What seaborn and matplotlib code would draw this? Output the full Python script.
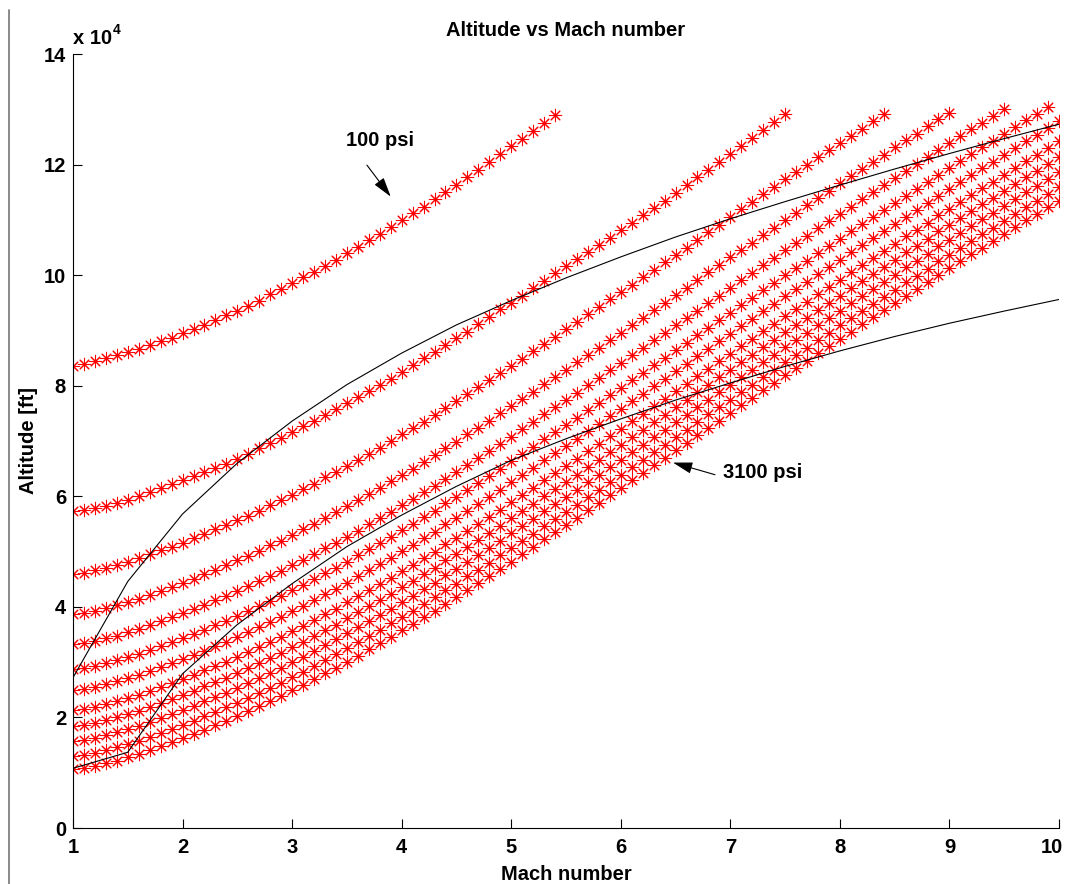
import numpy as np
import pandas as pd
import matplotlib
matplotlib.use("Agg")
import matplotlib.pyplot as plt
import matplotlib.transforms as mtransforms
import seaborn as sns
from matplotlib.lines import Line2D

sns.set_theme(style="white")
plt.rcParams["font.family"] = ["Liberation Sans", "DejaVu Sans"]
plt.rcParams["font.weight"] = "bold"
plt.rcParams["axes.labelweight"] = "bold"
plt.rcParams["axes.titleweight"] = "bold"

# Mach sampling grid of the constant-pressure curves (step 0.1)
mach_grid = np.round(np.arange(1.0, 10.05, 0.1), 1)

# Altitude [kft] of each constant-pressure curve (100 psi ... 3100 psi)
alt_q01 = [83.6, 83.9, 84.4, 85.0, 85.5, 86.1, 86.7, 87.4, 88.0, 88.7,
           89.5, 90.3, 91.0, 91.9, 92.8, 93.6, 94.5, 95.4, 96.5, 97.5,
           98.5, 99.6, 100.6, 101.7, 102.8, 104.0, 105.1, 106.3, 107.5, 108.7,
           109.9, 111.2, 112.4, 113.8, 115.0, 116.3, 117.7, 119.1, 120.5, 121.9,
           123.3, 124.6, 126.1, 127.5, 128.9]
alt_q02 = [57.3, 57.5, 57.9, 58.3, 58.8, 59.4, 60.0, 60.8, 61.5, 62.3,
           63.0, 63.6, 64.4, 65.1, 65.9, 66.8, 67.7, 68.7, 69.7, 70.6,
           71.6, 72.7, 73.6, 74.7, 75.8, 76.9, 78.0, 79.0, 80.2, 81.3,
           82.5, 83.8, 85.0, 86.1, 87.3, 88.6, 89.8, 91.2, 92.4, 93.8,
           95.0, 96.3, 97.6, 98.9, 100.3, 101.6, 102.9, 104.2, 105.5, 106.8,
           108.1, 109.4, 110.8, 112.2, 113.5, 114.9, 116.3, 117.7, 119.1, 120.5,
           122.0, 123.4, 124.8, 126.3, 127.7, 129.2]
alt_q03 = [46.0, 46.2, 46.6, 47.1, 47.6, 48.2, 48.8, 49.5, 50.2, 50.9,
           51.6, 52.4, 53.2, 54.0, 54.8, 55.7, 56.5, 57.4, 58.4, 59.3,
           60.3, 61.3, 62.3, 63.4, 64.4, 65.5, 66.6, 67.7, 68.8, 70.0,
           71.2, 72.3, 73.5, 74.7, 76.0, 77.2, 78.5, 79.7, 81.0, 82.3,
           83.6, 84.9, 86.2, 87.6, 88.9, 90.2, 91.5, 92.9, 94.2, 95.6,
           96.9, 98.3, 99.6, 101.0, 102.3, 103.7, 105.0, 106.4, 107.8, 109.1,
           110.5, 111.9, 113.2, 114.6, 115.9, 117.3, 118.6, 119.9, 121.3, 122.6,
           123.9, 125.2, 126.5, 127.8, 129.1]
alt_q04 = [38.7, 38.9, 39.3, 39.8, 40.3, 40.9, 41.5, 42.2, 42.9, 43.6,
           44.3, 45.1, 45.9, 46.7, 47.5, 48.4, 49.2, 50.1, 51.1, 52.0,
           53.0, 54.0, 55.0, 56.1, 57.1, 58.2, 59.3, 60.4, 61.5, 62.7,
           63.9, 65.0, 66.2, 67.4, 68.7, 69.9, 71.2, 72.4, 73.7, 75.0,
           76.3, 77.6, 78.9, 80.3, 81.6, 82.9, 84.2, 85.6, 86.9, 88.3,
           89.6, 91.0, 92.3, 93.7, 95.0, 96.4, 97.7, 99.1, 100.5, 101.8,
           103.2, 104.6, 105.9, 107.3, 108.6, 110.0, 111.3, 112.6, 114.0, 115.3,
           116.6, 117.9, 119.2, 120.5, 121.8, 123.1, 124.4, 125.6, 126.9, 128.2,
           129.4]
alt_q05 = [33.2, 33.4, 33.8, 34.3, 34.8, 35.4, 36.0, 36.7, 37.4, 38.1,
           38.8, 39.6, 40.4, 41.2, 42.0, 42.9, 43.7, 44.6, 45.6, 46.5,
           47.5, 48.5, 49.5, 50.6, 51.6, 52.7, 53.8, 54.9, 56.0, 57.2,
           58.4, 59.5, 60.7, 61.9, 63.2, 64.4, 65.7, 66.9, 68.2, 69.5,
           70.8, 72.1, 73.4, 74.8, 76.1, 77.4, 78.7, 80.1, 81.4, 82.8,
           84.1, 85.5, 86.8, 88.2, 89.5, 90.9, 92.2, 93.6, 95.0, 96.3,
           97.7, 99.1, 100.4, 101.8, 103.1, 104.5, 105.8, 107.1, 108.5, 109.8,
           111.1, 112.4, 113.7, 115.0, 116.3, 117.6, 118.9, 120.1, 121.4, 122.7,
           123.9, 125.1, 126.4, 127.6, 128.8, 130.0]
alt_q06 = [28.7, 28.9, 29.3, 29.8, 30.3, 30.9, 31.5, 32.2, 32.9, 33.6,
           34.3, 35.1, 35.9, 36.7, 37.5, 38.4, 39.2, 40.1, 41.1, 42.0,
           43.0, 44.0, 45.0, 46.1, 47.1, 48.2, 49.3, 50.4, 51.5, 52.7,
           53.9, 55.0, 56.2, 57.4, 58.7, 59.9, 61.2, 62.4, 63.7, 65.0,
           66.3, 67.6, 68.9, 70.3, 71.6, 72.9, 74.2, 75.6, 76.9, 78.3,
           79.6, 81.0, 82.3, 83.7, 85.0, 86.4, 87.7, 89.1, 90.5, 91.8,
           93.2, 94.6, 95.9, 97.3, 98.6, 100.0, 101.3, 102.6, 104.0, 105.3,
           106.6, 107.9, 109.2, 110.5, 111.8, 113.1, 114.4, 115.6, 116.9, 118.2,
           119.4, 120.6, 121.9, 123.1, 124.3, 125.5, 126.8, 128.0, 129.2, 130.4]
alt_q07 = [24.9, 25.1, 25.5, 26.0, 26.5, 27.1, 27.7, 28.4, 29.1, 29.8,
           30.5, 31.3, 32.1, 32.9, 33.7, 34.6, 35.4, 36.3, 37.3, 38.2,
           39.2, 40.2, 41.2, 42.3, 43.3, 44.4, 45.5, 46.6, 47.7, 48.9,
           50.1, 51.2, 52.4, 53.6, 54.9, 56.1, 57.4, 58.6, 59.9, 61.2,
           62.5, 63.8, 65.1, 66.5, 67.8, 69.1, 70.4, 71.8, 73.1, 74.5,
           75.8, 77.2, 78.5, 79.9, 81.2, 82.6, 83.9, 85.3, 86.7, 88.0,
           89.4, 90.8, 92.1, 93.5, 94.8, 96.2, 97.5, 98.8, 100.2, 101.5,
           102.8, 104.1, 105.4, 106.7, 108.0, 109.3, 110.6, 111.8, 113.1, 114.4,
           115.6, 116.8, 118.1, 119.3, 120.5, 121.7, 123.0, 124.2, 125.4, 126.6,
           127.8]
alt_q08 = [21.3, 21.5, 21.9, 22.4, 22.9, 23.5, 24.1, 24.8, 25.5, 26.2,
           26.9, 27.7, 28.5, 29.3, 30.1, 31.0, 31.8, 32.7, 33.7, 34.6,
           35.6, 36.6, 37.6, 38.7, 39.7, 40.8, 41.9, 43.0, 44.1, 45.3,
           46.5, 47.6, 48.8, 50.0, 51.3, 52.5, 53.8, 55.0, 56.3, 57.6,
           58.9, 60.2, 61.5, 62.9, 64.2, 65.5, 66.8, 68.2, 69.5, 70.9,
           72.2, 73.6, 74.9, 76.3, 77.6, 79.0, 80.3, 81.7, 83.1, 84.4,
           85.8, 87.2, 88.5, 89.9, 91.2, 92.6, 93.9, 95.2, 96.6, 97.9,
           99.2, 100.5, 101.8, 103.1, 104.4, 105.7, 107.0, 108.2, 109.5, 110.8,
           112.0, 113.2, 114.5, 115.7, 116.9, 118.1, 119.4, 120.6, 121.8, 123.0,
           124.2]
alt_q09 = [18.4, 18.6, 19.0, 19.5, 20.0, 20.6, 21.2, 21.9, 22.6, 23.3,
           24.0, 24.8, 25.6, 26.4, 27.2, 28.1, 28.9, 29.8, 30.8, 31.7,
           32.7, 33.7, 34.7, 35.8, 36.8, 37.9, 39.0, 40.1, 41.2, 42.4,
           43.6, 44.7, 45.9, 47.1, 48.4, 49.6, 50.9, 52.1, 53.4, 54.7,
           56.0, 57.3, 58.6, 60.0, 61.3, 62.6, 63.9, 65.3, 66.6, 68.0,
           69.3, 70.7, 72.0, 73.4, 74.7, 76.1, 77.4, 78.8, 80.2, 81.5,
           82.9, 84.3, 85.6, 87.0, 88.3, 89.7, 91.0, 92.3, 93.7, 95.0,
           96.3, 97.6, 98.9, 100.2, 101.5, 102.8, 104.1, 105.3, 106.6, 107.9,
           109.1, 110.3, 111.6, 112.8, 114.0, 115.2, 116.5, 117.7, 118.9, 120.1,
           121.3]
alt_q10 = [15.7, 15.9, 16.3, 16.8, 17.3, 17.9, 18.5, 19.2, 19.9, 20.6,
           21.3, 22.1, 22.9, 23.7, 24.5, 25.4, 26.2, 27.1, 28.1, 29.0,
           30.0, 31.0, 32.0, 33.1, 34.1, 35.2, 36.3, 37.4, 38.5, 39.7,
           40.9, 42.0, 43.2, 44.4, 45.7, 46.9, 48.2, 49.4, 50.7, 52.0,
           53.3, 54.6, 55.9, 57.3, 58.6, 59.9, 61.2, 62.6, 63.9, 65.3,
           66.6, 68.0, 69.3, 70.7, 72.0, 73.4, 74.7, 76.1, 77.5, 78.8,
           80.2, 81.6, 82.9, 84.3, 85.6, 87.0, 88.3, 89.6, 91.0, 92.3,
           93.6, 94.9, 96.2, 97.5, 98.8, 100.1, 101.4, 102.6, 103.9, 105.2,
           106.4, 107.6, 108.9, 110.1, 111.3, 112.5, 113.8, 115.0, 116.2, 117.4,
           118.6]
alt_q11 = [13.0, 13.2, 13.6, 14.1, 14.6, 15.2, 15.8, 16.5, 17.2, 17.9,
           18.6, 19.4, 20.2, 21.0, 21.8, 22.7, 23.5, 24.4, 25.4, 26.3,
           27.3, 28.3, 29.3, 30.4, 31.4, 32.5, 33.6, 34.7, 35.8, 37.0,
           38.2, 39.3, 40.5, 41.7, 43.0, 44.2, 45.5, 46.7, 48.0, 49.3,
           50.6, 51.9, 53.2, 54.6, 55.9, 57.2, 58.5, 59.9, 61.2, 62.6,
           63.9, 65.3, 66.6, 68.0, 69.3, 70.7, 72.0, 73.4, 74.8, 76.1,
           77.5, 78.9, 80.2, 81.6, 82.9, 84.3, 85.6, 86.9, 88.3, 89.6,
           90.9, 92.2, 93.5, 94.8, 96.1, 97.4, 98.7, 99.9, 101.2, 102.5,
           103.7, 104.9, 106.2, 107.4, 108.6, 109.8, 111.1, 112.3, 113.5, 114.7,
           115.9]
alt_q12 = [10.6, 10.8, 11.2, 11.7, 12.2, 12.8, 13.4, 14.1, 14.8, 15.5,
           16.2, 17.0, 17.8, 18.6, 19.4, 20.3, 21.1, 22.0, 23.0, 23.9,
           24.9, 25.9, 26.9, 28.0, 29.0, 30.1, 31.2, 32.3, 33.4, 34.6,
           35.8, 36.9, 38.1, 39.3, 40.6, 41.8, 43.1, 44.3, 45.6, 46.9,
           48.2, 49.5, 50.8, 52.2, 53.5, 54.8, 56.1, 57.5, 58.8, 60.2,
           61.5, 62.9, 64.2, 65.6, 66.9, 68.3, 69.6, 71.0, 72.4, 73.7,
           75.1, 76.5, 77.8, 79.2, 80.5, 81.9, 83.2, 84.5, 85.9, 87.2,
           88.5, 89.8, 91.1, 92.4, 93.7, 95.0, 96.3, 97.5, 98.8, 100.1,
           101.3, 102.5, 103.8, 105.0, 106.2, 107.4, 108.7, 109.9, 111.1, 112.3,
           113.5]

# Boundary lines [kft]
bound_mach = [1.0, 1.5, 2.0, 2.5, 3.0, 3.5, 4.0, 4.5, 5.0, 5.5,
              6.0, 6.5, 7.0, 7.5, 8.0, 8.5, 9.0, 9.5, 10.0]
bound_upper = [27.2, 44.6, 56.8, 66.0, 73.6, 80.2, 85.9, 91.0, 95.4, 99.5,
               103.3, 106.9, 110.2, 113.3, 116.3, 119.2, 122.0, 124.7, 127.3]
bound_lower = [10.8, 13.7, 27.9, 36.8, 44.2, 50.9, 56.6, 61.8, 66.5, 70.4,
               74.0, 77.4, 80.5, 83.5, 86.3, 88.9, 91.3, 93.5, 95.6]

curves = [alt_q01, alt_q02, alt_q03, alt_q04, alt_q05, alt_q06,
          alt_q07, alt_q08, alt_q09, alt_q10, alt_q11, alt_q12]

x_ticks = [1, 2, 3, 4, 5, 6, 7, 8, 9, 10]
y_tick_labels = ["0", "2", "4", "6", "8", "10", "12", "14"]

frames = []
for i, alts in enumerate(curves):
    frames.append(pd.DataFrame({"Mach": mach_grid[:len(alts)],
                                "Altitude": np.array(alts) * 1000.0,
                                "curve": i}))
df = pd.concat(frames, ignore_index=True)

W, H = 1067, 884
fig = plt.figure(figsize=(W / 100, H / 100), dpi=100, facecolor="white")
ax = fig.add_axes([73 / W, 1 - 828 / H, 986 / W, 774 / H])
ax.set_facecolor("white")

sns.scatterplot(data=df, x="Mach", y="Altitude", marker=(8, 2, 0), s=80,
                color="#ff0000", linewidth=0.75, legend=False, ax=ax, zorder=2)
for b in (bound_upper, bound_lower):
    sns.lineplot(x=bound_mach, y=np.array(b) * 1000.0, color="black", lw=0.8,
                 sort=False, estimator=None, ax=ax, zorder=3)

ax.set_xlim(1, 10)
ax.set_ylim(0, 140000)
ax.set_xticks(x_ticks)
ax.set_xticklabels([str(t) for t in x_ticks])
ax.set_yticks(np.arange(0, 140001, 20000))
ax.set_yticklabels(y_tick_labels)

for s in ("top", "right"):
    ax.spines[s].set_visible(False)
for s in ("left", "bottom"):
    ax.spines[s].set_color("black")
    ax.spines[s].set_linewidth(0.8)

ax.tick_params(axis="both", which="both", direction="in", length=6.5, width=0.8,
               color="black", labelsize=14.5, labelcolor="black",
               bottom=True, left=True, top=False, right=False)
ax.tick_params(axis="x", pad=7)
ax.tick_params(axis="y", pad=5)
for lab in ax.get_xticklabels() + ax.get_yticklabels():
    lab.set_fontweight("bold")

ax.set_xlabel("Mach number", fontsize=14.5, fontweight="bold", color="black")
ax.set_ylabel("Altitude [ft]", fontsize=14.5, fontweight="bold", color="black")
ax.xaxis.set_label_coords(0.5, (828 - 874) / 774)
ax.xaxis.label.set_va("center")
ax.yaxis.set_label_coords((28 - 73) / 986, 0.5)
ax.yaxis.label.set_va("center")

ax.text(0.5, (828 - 30) / 774, "Altitude vs Mach number", transform=ax.transAxes,
        ha="center", va="center", fontsize=14.5, fontweight="bold", color="black")
ax.text(0.0, (828 - 38) / 774, "x 10", transform=ax.transAxes,
        ha="left", va="center", fontsize=14.5, fontweight="bold", color="black")
ax.text((113 - 73) / 986, (828 - 30) / 774, "4", transform=ax.transAxes,
        ha="left", va="center", fontsize=10, fontweight="bold", color="black")

arrow_kw = dict(arrowstyle="-|>,head_length=1.2,head_width=0.35", color="black",
                lw=0.8, mutation_scale=10, shrinkA=0, shrinkB=0)
ax.text(3.80, 124300, "100 psi", ha="center", va="center", fontsize=14.5,
        fontweight="bold", color="black")
ax.annotate("", xy=(3.90, 114200), xytext=(3.683, 119900), arrowprops=arrow_kw)
ax.text(6.93, 64300, "3100 psi", ha="left", va="center", fontsize=14.5,
        fontweight="bold", color="black")
ax.annotate("", xy=(6.476, 66100), xytext=(6.86, 63900), arrowprops=arrow_kw)

fig.add_artist(Line2D([9 / W, 9 / W], [0, 1 - 10 / H], transform=fig.transFigure,
                      color="#808080", lw=1.3))

# keep the last x tick label ("10") inside the figure, as in the reference
last_lab = ax.get_xticklabels()[-1]
last_lab.set_transform(last_lab.get_transform() +
                       mtransforms.ScaledTranslation(-0.07, 0, fig.dpi_scale_trans))

fig.savefig("out.png", dpi=100, facecolor="white")
